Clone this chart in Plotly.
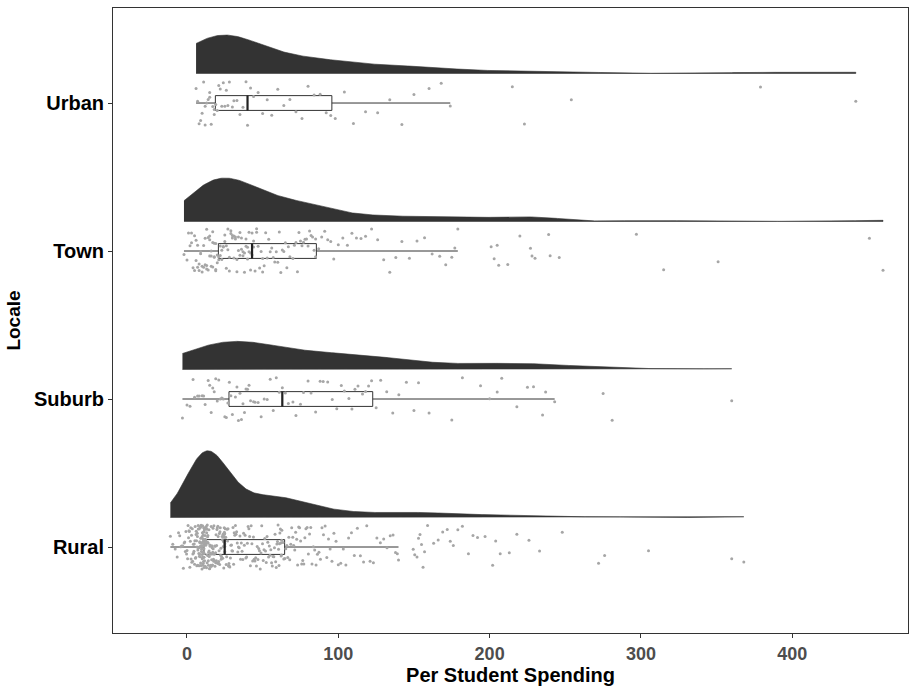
import numpy as np
import plotly.graph_objects as go

# Per-student spending by school locale
locales = ["Rural", "Suburb", "Town", "Urban"]

rural = [
    -11.0, -9.4, -7.8, -6.5, -5.6, -4.8, -4.1, -3.5, -2.9, -2.4,
    -1.9, -1.5, -1.1, -0.7, -0.3, 0.0, 0.4, 0.7, 1.0, 1.3,
    1.6, 1.9, 2.2, 2.5, 2.7, 3.0, 3.2, 3.5, 3.7, 3.9,
    4.2, 4.4, 4.6, 4.8, 5.0, 5.2, 5.4, 5.6, 5.8, 6.0,
    6.1, 6.3, 6.5, 6.6, 6.8, 6.9, 7.1, 7.2, 7.4, 7.5,
    7.6, 7.8, 7.9, 8.0, 8.1, 8.2, 8.3, 8.4, 8.5, 8.6,
    8.7, 8.8, 8.9, 9.0, 9.1, 9.2, 9.3, 9.4, 9.5, 9.6,
    9.7, 9.8, 9.9, 10.0, 10.0, 10.1, 10.2, 10.3, 10.3, 10.4,
    10.5, 10.5, 10.6, 10.6, 10.7, 10.7, 10.8, 10.8, 10.9, 10.9,
    11.0, 11.0, 11.0, 11.1, 11.1, 11.1, 11.2, 11.2, 11.2, 11.2,
    11.3,
    11.4, 11.5, 11.6, 11.7, 11.8, 11.9, 12.0, 12.1, 12.2, 12.3,
    12.4, 12.5, 12.6, 12.7, 12.8, 12.9, 13.0, 13.1, 13.2, 13.3,
    13.4, 13.5, 13.6, 13.7, 13.8, 13.9, 14.0, 14.1, 14.2, 14.3,
    14.5, 14.6, 14.7, 14.9, 15.0, 15.1, 15.3, 15.4, 15.5, 15.7,
    15.8, 16.0, 16.1, 16.3, 16.4, 16.6, 16.7, 16.9, 17.0, 17.2,
    17.3, 17.5, 17.7, 17.8, 18.0, 18.2, 18.3, 18.5, 18.7, 18.9,
    19.0, 19.2, 19.4, 19.6, 19.8, 20.0, 20.2, 20.4, 20.6, 20.8,
    21.0, 21.2, 21.4, 21.6, 21.8, 22.0, 22.2, 22.4, 22.6, 22.8,
    23.0, 23.2, 23.4, 23.6, 23.8, 24.0, 24.1, 24.2, 24.3, 24.4,
    24.5, 24.6, 24.7, 24.8, 24.9, 24.9, 25.0, 25.0, 25.0,
    25.0,
    25.3, 25.6, 25.9, 26.2, 26.5, 26.8, 27.1, 27.4, 27.7, 28.0,
    28.3, 28.7, 29.0, 29.4, 29.7, 30.1, 30.4, 30.8, 31.2, 31.6,
    32.0, 32.4, 32.8, 33.2, 33.6, 34.0, 34.5, 35.0, 35.4, 35.9,
    36.4, 36.9, 37.4, 37.9, 38.4, 38.9, 39.4, 39.9, 40.4, 40.9,
    41.4, 41.9, 42.4, 42.9, 43.4, 43.9, 44.4, 44.9, 45.4, 45.9,
    46.4, 46.9, 47.4, 47.9, 48.4, 48.9, 49.4, 49.9, 50.4, 50.9,
    51.4, 51.9, 52.4, 52.9, 53.4, 53.9, 54.4, 54.9, 55.4, 55.9,
    56.4, 56.9, 57.4, 57.8, 58.2, 58.6, 59.0, 59.4, 59.8, 60.2,
    60.5, 60.8, 61.1, 61.4, 61.7, 62.0, 62.2, 62.4, 62.6, 62.7,
    63.4, 64.0, 64.7, 65.3, 66.0, 66.6, 67.3, 67.9, 68.6, 69.2,
    69.9, 70.5, 71.2, 71.8, 72.5, 73.1, 73.8, 74.4, 75.1, 75.8,
    76.5, 77.2, 77.9, 78.6, 79.4, 80.2, 81.0, 81.8, 82.6, 83.5,
    84.4, 85.3, 86.2, 87.2, 88.2, 89.2, 90.2, 91.3, 92.4, 93.5,
    94.6, 95.8,
    97.1, 98.5, 100.0, 101.6, 103.3, 105.0, 106.8, 108.7, 110.6, 112.6,
    114.6, 116.7, 118.8, 121.0, 123.2, 125.5, 127.8, 130.0, 132.2, 134.3,
    136.2, 137.8, 139.0, 139.8,
    149.5, 150.5, 152, 153, 154, 155, 156, 157, 159, 163,
    166, 169, 172, 174, 176, 179, 182, 186, 189, 192,
    197, 202, 204, 207, 213, 218, 226, 233, 248, 272,
    276, 305, 360, 368,
]

suburb = [
    -3, 0, 2, 4, 5, 7, 8, 10, 11, 12, 14, 15, 16, 17, 18, 19, 20, 21, 22, 23, 24, 25, 26, 27,
    28,
    29, 30, 32, 33, 34, 35, 36, 37, 38, 39, 40, 41, 42, 44, 45, 47, 49, 51, 53, 55, 57, 59, 61,
    63,
    65, 67, 70, 72, 75, 77, 80, 82, 85, 88, 90, 93, 96, 99, 102, 104, 107, 109, 111, 113, 116, 118, 120,
    122,
    125, 128, 132, 136, 140, 145, 150, 153, 160, 175, 182, 194, 200, 205, 208, 218, 225, 229, 235, 237, 243,
    275, 281, 360,
]

town = [
    -2, 0, 1, 2, 3, 3, 4, 5, 5, 6, 6, 7, 7, 8, 8, 9, 9, 10, 10, 11, 11, 12, 12, 13, 13,
    13, 14, 14, 15, 15, 15, 16, 16, 16, 17, 17, 17, 18, 18, 18, 19, 19, 19, 20, 20,
    21,
    21, 22, 22, 23, 23, 24, 24, 25, 25, 26, 26, 27, 27, 28, 28, 29, 29, 30, 30, 31, 31, 32,
    32, 33, 33, 34, 34, 35, 35, 36, 36, 37, 37, 38, 38, 39, 39, 40, 40, 41, 41, 42, 42, 43,
    43,
    44, 44, 45, 46, 46, 47, 48, 49, 50, 50, 51, 52, 53, 54, 55, 56, 57, 58, 59, 60, 61, 62,
    63, 64, 65, 66, 67, 68, 70, 71, 72, 73, 74, 75, 76, 77, 78, 79, 80, 81, 82, 83, 84, 85,
    85,
    87, 89, 91, 93, 95, 97, 100, 103, 106, 109, 112, 115, 118, 122, 126, 130, 134, 138, 142,
    147, 152, 157, 162, 167, 171, 175, 177, 179,
    201, 203, 205, 206, 212, 220, 227, 228, 230, 239, 240, 246, 297, 315, 351, 451, 460,
]

urban = [
    6, 7, 8, 9, 10, 11, 12, 12, 13, 14, 15, 15, 16, 17, 18, 18, 19,
    20, 21, 22, 23, 24, 25, 26, 27, 28, 30, 31, 33, 35, 37, 39, 40,
    42, 44, 47, 50, 53, 56, 60, 64, 68, 72, 76, 80, 84, 88, 92, 95,
    98, 104, 110, 118, 126, 134, 142, 150, 160, 168, 174, 215, 223, 254, 379, 442,
]

x_ticks = [0, 100, 200, 300, 400]

groups = [rural, suburb, town, urban]
positions = [1, 2, 3, 4]

DENS_COLOR = "#333333"
POINT_COLOR = "#a6a6a6"
BOX_COLOR = "#333333"
NUDGE = 0.2          # cloud sits above the category line
MAX_HEIGHT = 0.45    # tallest cloud height (half of violin width 0.9)
BOX_WIDTH = 0.1
JITTER = 0.15


def bw_nrd0(v):
    sd = v.std(ddof=1)
    q75, q25 = np.percentile(v, [75, 25])
    lo = min(sd, (q75 - q25) / 1.34)
    return 0.9 * lo * len(v) ** -0.2


def gaussian_kde(v, grid):
    bw = bw_nrd0(v)
    z = (grid[:, None] - v[None, :]) / bw
    return np.exp(-0.5 * z ** 2).sum(axis=1) / (len(v) * bw * np.sqrt(2 * np.pi))


def hash_jitter(n, seed):
    # deterministic hash spread in [-1, 1]
    i = np.arange(n, dtype=float) + 1.0
    u = np.sin(i * 12.9898 + seed * 78.233) * 43758.5453
    return (u - np.floor(u)) * 2.0 - 1.0


arrays = [np.asarray(g, dtype=float) for g in groups]
grids = [np.linspace(a.min(), a.max(), 512) for a in arrays]
dens = [gaussian_kde(a, gr) for a, gr in zip(arrays, grids)]
dmax = max(d.max() for d in dens)

fig = go.Figure()

# half-violin "clouds"
for a, gr, d, pos in zip(arrays, grids, dens, positions):
    base = pos + NUDGE
    h = d / dmax * MAX_HEIGHT
    fig.add_trace(go.Scatter(
        x=np.concatenate([gr, gr[::-1]]),
        y=np.concatenate([base + h, np.full(len(gr), base)]),
        fill="toself", fillcolor=DENS_COLOR,
        line=dict(color=DENS_COLOR, width=0.6),
        mode="lines", hoverinfo="skip", showlegend=False,
    ))

# jittered "rain" points
for a, pos in zip(arrays, positions):
    offs = hash_jitter(len(a), pos) * JITTER
    fig.add_trace(go.Scatter(
        x=a, y=pos + offs, mode="markers",
        marker=dict(color=POINT_COLOR, size=3, line=dict(width=0)),
        hoverinfo="x", showlegend=False,
    ))

# boxplots (Tukey whiskers, outlier markers hidden since the rain shows them)
for a, pos in zip(arrays, positions):
    fig.add_trace(go.Box(
        x=a, y0=pos, orientation="h", width=BOX_WIDTH,
        boxpoints="outliers", whiskerwidth=0, quartilemethod="linear",
        marker=dict(size=0.01, opacity=0),
        fillcolor="rgba(255,255,255,0)",
        line=dict(color=BOX_COLOR, width=1),
        hoverinfo="skip", showlegend=False,
    ))
    med = float(np.median(a))
    fig.add_shape(type="line", x0=med, x1=med,
                  y0=pos - BOX_WIDTH / 2, y1=pos + BOX_WIDTH / 2,
                  line=dict(color="#222222", width=2.2), layer="above")

FONT = "Liberation Sans, Arial, sans-serif"

fig.update_layout(
    width=910, height=690,
    margin=dict(l=113, r=2, t=8, b=57),
    plot_bgcolor="white", paper_bgcolor="white",
    boxmode="overlay",
    font=dict(family=FONT),
    xaxis=dict(
        range=[-48.9, 476.5], tickvals=x_ticks,
        showline=True, mirror=True, linecolor="#333333", linewidth=1,
        ticks="outside", ticklen=4, tickcolor="#333333",
        showgrid=False, zeroline=False,
        tickfont=dict(size=18, color="#4d4d4d", family=FONT, weight="bold"),
        title=dict(text="Per Student Spending", standoff=4,
                   font=dict(size=20, color="black", family=FONT, weight="bold")),
    ),
    yaxis=dict(
        type="linear", range=[0.419, 4.642],
        tickvals=positions, ticktext=locales,
        showline=True, mirror=True, linecolor="#333333", linewidth=1,
        ticks="outside", ticklen=4, tickcolor="#333333",
        showgrid=False, zeroline=False,
        tickfont=dict(size=20, color="black", family=FONT, weight="bold"),
        title=dict(text="Locale", standoff=8,
                   font=dict(size=19, color="black", family=FONT, weight="bold")),
    ),
)

fig.write_html("out.html")
